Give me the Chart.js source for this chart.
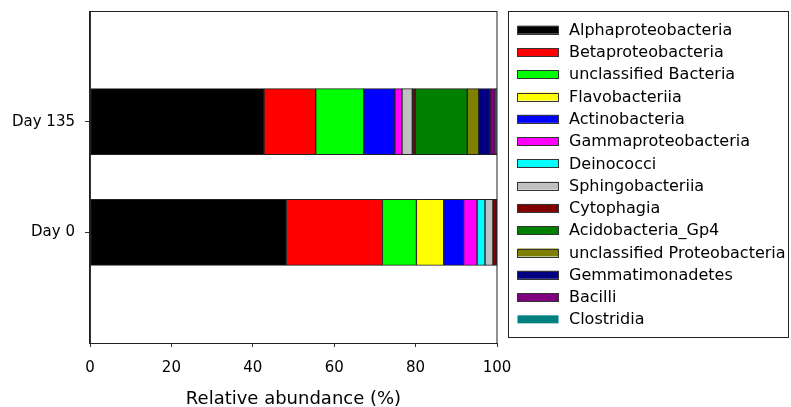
<!DOCTYPE html>
<html>
<head>
<meta charset="utf-8">
<script src="https://cdn.jsdelivr.net/npm/chart.js@4.4.1/dist/chart.umd.min.js"></script>
<style>
  html, body { margin: 0; padding: 0; background: #fff; }
  canvas { display: block; }
</style>
</head>
<body>
<canvas id="c" width="791" height="407"></canvas>
<script>
// Category labels (blank padding slots keep the bars at 1/3 and 2/3 of the axis)
const categories = ['', 'Day 135', 'Day 0', ''];
const xTicks = [0, 20, 40, 60, 80, 100];

// Series values: [Day 135, Day 0] in %
const taxa = [
  'Alphaproteobacteria', 'Betaproteobacteria', 'unclassified Bacteria', 'Flavobacteriia',
  'Actinobacteria', 'Gammaproteobacteria', 'Deinococci', 'Sphingobacteriia', 'Cytophagia',
  'Acidobacteria_Gp4', 'unclassified Proteobacteria', 'Gemmatimonadetes', 'Bacilli', 'Clostridia'
];
const alphaproteobacteria = [42.75, 48.25];
const betaproteobacteria = [12.7, 23.6];
const unclassifiedBacteria = [11.8, 8.35];
const flavobacteriia = [0, 6.7];
const actinobacteria = [7.65, 4.9];
const gammaproteobacteria = [1.75, 3.3];
const deinococci = [0, 1.95];
const sphingobacteriia = [2.55, 1.95];
const cytophagia = [0.7, 1.0];
const acidobacteriaGp4 = [12.8, 0];
const unclassifiedProteobacteria = [2.8, 0];
const gemmatimonadetes = [2.8, 0];
const bacilli = [1.25, 0];
const clostridia = [0.45, 0];

const seriesValues = [
  alphaproteobacteria, betaproteobacteria, unclassifiedBacteria, flavobacteriia,
  actinobacteria, gammaproteobacteria, deinococci, sphingobacteriia, cytophagia,
  acidobacteriaGp4, unclassifiedProteobacteria, gemmatimonadetes, bacilli, clostridia
];
const colors = [
  '#000000', '#FF0000', '#00FF00', '#FFFF00', '#0000FF', '#FF00FF', '#00FFFF',
  '#C0C0C0', '#800000', '#008000', '#808000', '#000080', '#800080', '#008080'
];

Chart.defaults.font.family = '"DejaVu Sans", sans-serif';
Chart.defaults.color = '#000';

const datasets = taxa.map((name, i) => ({
  label: name,
  data: [null, seriesValues[i][0], seriesValues[i][1], null],
  backgroundColor: colors[i],
  borderColor: '#222',
  borderWidth: 1,
  borderSkipped: false,
  barThickness: 66
}));

const frame = {
  id: 'frame',
  afterDraw(chart) {
    const ctx = chart.ctx;
    const a = chart.chartArea;
    ctx.save();
    ctx.strokeStyle = '#222';
    ctx.lineWidth = 1;
    ctx.strokeRect(a.left - 0.5, a.top + 0.5, a.right - a.left + 0.5, a.bottom - a.top);
    // legend box
    const lx = 508.5, ly = 11.5, lw = 280, lh = 326;
    ctx.strokeRect(lx, ly, lw, lh);
    ctx.font = '16px "DejaVu Sans", sans-serif';
    ctx.textBaseline = 'middle';
    ctx.textAlign = 'left';
    chart.data.datasets.forEach((ds, i) => {
      const cy = 29.7 + i * 22.28;
      ctx.fillStyle = ds.backgroundColor;
      ctx.fillRect(517.5, cy - 4, 41, 8);
      if (i < chart.data.datasets.length - 1) {
        ctx.strokeStyle = '#333';
        ctx.strokeRect(517.5, Math.round(cy - 4) + 0.5, 41, 8);
      }
      ctx.fillStyle = '#000';
      ctx.fillText(ds.label, 569, cy + 1);
    });
    ctx.restore();
  }
};

new Chart(document.getElementById('c'), {
  type: 'bar',
  data: { labels: categories, datasets },
  options: {
    responsive: false,
    animation: false,
    indexAxis: 'y',
    layout: { padding: { top: 11, right: 294, left: 0, bottom: 0 } },
    plugins: { legend: { display: false }, tooltip: { enabled: false } },
    scales: {
      x: {
        stacked: true,
        min: 0, max: 100,
        afterFit: s => { s.height = 64; },
        afterBuildTicks: s => { s.ticks = xTicks.map(v => ({ value: v })); },
        grid: { drawOnChartArea: false, drawTicks: true, tickLength: 4, color: '#333' },
        border: { display: true, color: '#333' },
        ticks: { font: { size: 15 }, padding: 12, maxRotation: 0 },
        title: { display: true, text: 'Relative abundance (%)', font: { size: 18 }, padding: { top: 0, bottom: -3 } }
      },
      y: {
        stacked: true,
        offset: false,
        afterFit: s => { s.width = 90; s.paddingTop = 0; s.paddingBottom = 0; },
        grid: {
          offset: false,
          drawOnChartArea: false, drawTicks: true, tickLength: 5,
          color: ctx => (categories[ctx.index] ? '#333' : 'rgba(0,0,0,0)')
        },
        border: { display: true, color: '#333' },
        ticks: { font: { size: 15 }, padding: 10, autoSkip: false }
      }
    }
  },
  plugins: [frame]
});
</script>
</body>
</html>
